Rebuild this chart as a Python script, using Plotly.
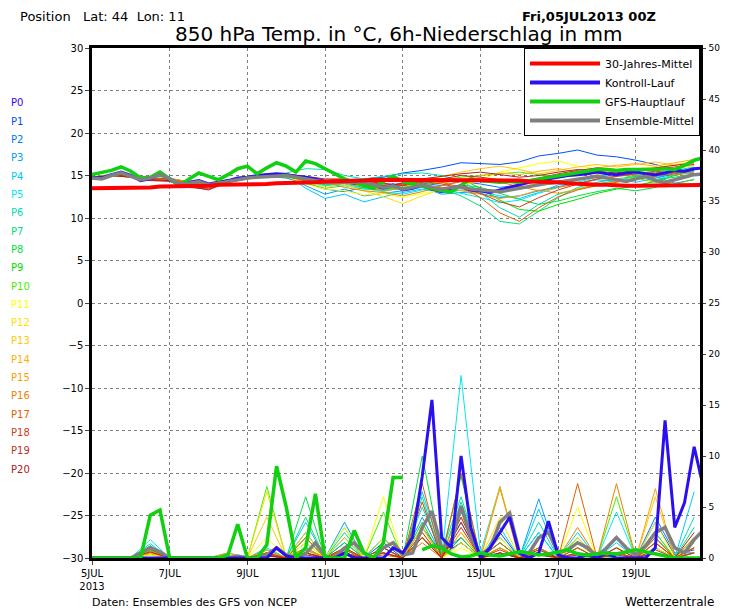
import plotly.graph_objects as go

# ---------------- data ----------------
tick_days = [0, 2, 4, 6, 8, 10, 12, 14]
tick_text = ["5JUL<br>2013", "7JUL", "9JUL", "11JUL", "13JUL", "15JUL", "17JUL", "19JUL"]

climate_temp = [13.5,13.5,13.5,13.6,13.6,13.6,13.6,13.7,13.7,13.7,13.8,13.8,13.8,13.9,13.9,13.9,14.0,14.0,14.0,14.1,14.1,14.1,14.2,14.2,14.3,14.3,14.4,14.4,14.4,14.5,14.5,14.5,
                14.5,14.5,14.5,14.5,14.5,14.5,14.5,14.5,14.5,14.5,14.5,14.4,14.4,14.3,14.3,14.2,14.2,14.1,14.0,14.0,13.9,13.9,13.8,13.8,13.8,13.8,13.8,13.8,13.8,13.8,13.8,13.9]
gfs_temp = [15.1,15.3,15.6,16.0,15.5,14.7,14.8,15.4,14.6,13.8,14.6,15.3,14.9,14.5,15.1,15.8,16.1,15.2,15.9,16.5,16.1,15.4,16.7,16.4,15.8,15.2,14.6,14.2,13.8,13.5,14.3,14.9,
            14.3,14.0,13.7,13.4,13.2,13.1,13.8,14.6,14.4,14.3,14.2,14.3,14.2,14.4,14.6,14.8,15.0,15.2,15.4,15.6,15.7,15.7,15.6,15.7,15.7,15.6,15.7,15.8,15.7,16.2,16.8,17.1]
mean_temp = [14.7,14.6,15.0,15.3,14.9,14.5,14.7,15.1,14.6,14.0,14.1,14.3,13.9,14.1,14.3,14.6,14.7,14.8,14.9,15.0,15.0,14.8,14.6,14.4,14.2,14.2,14.2,14.2,14.2,13.9,13.6,13.8,
             13.4,13.6,13.9,13.6,13.4,13.6,13.7,13.4,13.3,13.2,13.1,13.3,13.5,13.8,14.0,14.1,14.2,14.4,14.6,14.8,14.9,14.7,14.5,14.3,14.6,14.9,14.4,14.2,14.5,14.8,15.1,15.2]
control_temp = [14.8,14.7,15.1,15.4,15.0,14.4,14.6,15.2,14.5,13.9,14.2,14.4,14.0,14.2,14.4,14.7,14.8,15.0,15.1,15.2,15.1,14.9,14.8,14.6,14.3,14.2,14.3,14.1,14.0,13.8,13.5,13.9,
                13.3,13.5,13.9,13.4,13.1,13.5,13.8,13.3,13.2,13.0,13.3,13.6,13.9,14.2,14.4,14.6,14.8,15.0,15.1,15.2,15.4,15.2,15.1,15.3,15.4,15.2,15.1,15.3,15.6,15.5,15.8,15.9]

control_prec = [0,0,0,0,0,0,0,0,0,0,0,0,0,0,0,0,0,0,0,1.0,0.2,0,0,0,0,0,0.5,0,0,0,0,1.0,
                0.5,2.0,8.0,15.5,2.0,1.0,10.0,3.0,0,1.0,2.5,4.0,0.5,0,0.5,3.6,0.3,0,0,0.3,0,0.5,0,0,0,0,1.0,13.5,3.0,5.4,10.9,6.7]
gfs_prec = [0,0,0,0,0,0,4.2,4.7,0,0,0,0,0,0,0.3,3.3,0,0,1.3,9.0,5.0,0,1.0,6.3,0,0,0,2.7,0.5,0,1.5,7.9,
            7.9,None,0.8,1.2,1.0,0.4,0.1,0.2,0.5,0.3,0.2,0.4,0.6,0.5,0.3,0.4,0.6,0.8,0.4,0.3,0.4,0.5,0.4,0.6,0.8,0.6,0.4,0.2,0,0,0,0]
mean_prec = [0,0,0,0,0,0.5,1.0,0.6,0,0,0,0,0,0,0,0.2,0,0,0.3,1.0,0.3,0,0.4,1.5,0.2,0,1.0,1.5,0.5,0,1.0,1.5,
             0.3,0.5,3.0,4.6,1.0,1.5,5.1,2.0,0.3,1.0,3.5,4.4,0.5,0.5,2.0,2.5,0.5,0.8,1.5,1.0,0.2,1.0,2.0,1.0,0.3,1.2,2.5,3.0,1.0,0.5,1.8,2.8]

member_names = ["P%d" % i for i in range(1, 21)]
member_colors = ["#0050ff","#0078ff","#00a0ff","#00c8ff","#00e8f0","#00e0b0","#00e080","#00e040","#00e000","#40f000",
                 "#ffff00","#ffe000","#ffc800","#ffb000","#ffa000","#f08000","#e06000","#d04020","#c03020","#b02020"]
label_colors = ["#3000ff"] + member_colors

member_temp = [
[14.8,15.1,14.8,14.4,14.5,14.2,13.9,14.4,14.8,15.0,15.1,14.7,14.4,14.5,14.6,14.8,15.3,15.6,16.0,16.5,16.4,16.3,16.6,17.3,17.6,18.0,17.4,17.2,16.8,16.3,15.6,15.2],
[14.7,15.0,14.9,14.6,14.7,14.2,13.9,14.2,14.6,14.9,14.7,14.1,13.4,13.1,13.6,13.2,13.5,14.1,13.8,14.3,14.0,13.6,13.9,14.5,14.9,15.3,15.8,15.4,15.0,14.7,15.2,15.6],
[14.6,15.1,14.8,14.5,14.7,14.0,13.8,14.3,14.6,15.0,14.9,13.8,12.8,13.4,12.6,12.9,13.2,13.6,12.8,13.0,12.9,12.4,12.6,13.2,13.7,14.1,14.5,14.3,14.6,14.9,14.1,14.5],
[14.8,14.9,15.0,14.6,14.6,14.0,14.0,14.5,14.8,15.0,15.1,13.5,12.3,12.8,11.9,12.5,13.0,13.4,13.0,13.3,13.1,12.6,12.3,13.0,13.9,14.6,15.0,14.6,14.2,14.7,15.4,15.9],
[14.7,15.2,14.9,14.7,14.5,14.1,14.0,14.3,14.7,15.1,15.0,14.3,13.8,14.0,13.5,13.1,12.8,13.3,13.6,12.9,12.4,11.8,12.1,12.9,13.6,14.2,14.8,15.3,15.0,14.5,15.1,15.5],
[14.7,15.0,14.8,14.8,14.6,14.2,13.9,14.4,14.9,15.2,15.3,15.8,15.7,15.0,14.6,14.9,15.2,15.3,15.0,14.4,13.0,11.2,10.1,11.6,12.8,13.4,14.0,14.4,14.9,15.3,15.6,16.0],
[14.6,15.0,14.9,14.6,14.6,14.1,13.9,14.3,14.7,15.0,14.8,14.1,13.5,13.8,13.4,13.3,13.6,14.0,13.4,12.6,11.4,9.6,9.3,10.8,12.4,13.6,14.2,14.6,14.9,14.5,14.8,15.2],
[14.7,15.1,14.8,14.5,14.6,14.1,13.9,14.4,14.8,15.1,14.9,14.3,13.9,14.1,13.6,13.5,13.4,13.8,13.2,13.9,13.6,12.9,12.2,11.6,12.0,12.6,13.1,13.5,13.2,13.6,14.4,15.2],
[14.8,15.0,14.9,14.6,14.6,14.3,14.0,14.4,14.8,15.0,15.0,14.5,14.2,14.4,13.9,13.8,13.4,13.9,14.2,14.6,13.5,12.1,11.0,10.8,11.6,12.2,12.9,13.4,13.8,14.3,15.0,15.8],
[14.7,15.1,14.9,14.7,14.5,14.2,13.9,14.3,14.7,14.9,14.8,14.4,14.1,14.2,14.3,13.9,13.6,14.1,14.5,14.8,15.0,15.2,15.4,15.1,14.8,15.0,15.3,15.2,14.7,14.2,13.9,14.6],
[14.7,15.0,14.8,14.6,14.7,14.1,14.0,14.4,14.7,15.0,14.9,14.0,13.4,13.2,12.7,12.9,12.4,12.9,13.3,13.8,14.5,15.4,15.9,16.4,16.7,16.1,15.8,15.6,15.4,15.9,16.3,16.6],
[14.6,15.1,14.9,14.5,14.6,14.2,13.9,14.4,14.8,15.1,15.0,14.2,13.6,13.9,13.2,12.5,11.7,12.6,13.4,13.9,14.4,14.6,14.2,13.8,14.1,14.5,15.1,15.5,15.8,16.0,15.8,16.2],
[14.7,15.0,14.8,14.6,14.6,14.1,14.0,14.3,14.8,15.0,14.9,14.5,14.2,14.6,14.1,13.6,13.8,14.2,14.9,15.4,15.8,16.1,15.7,15.2,15.6,16.0,16.3,16.0,16.3,16.6,16.2,16.6],
[14.8,15.1,14.9,14.5,14.5,14.0,13.8,14.4,14.8,15.1,15.0,14.6,14.0,14.3,13.8,13.7,13.9,14.4,14.1,14.5,15.0,15.3,15.1,15.5,15.8,15.4,15.9,16.2,16.4,16.1,16.5,16.9],
[14.7,15.0,14.9,14.6,14.5,14.1,13.9,14.3,14.7,15.0,15.1,14.7,14.3,14.1,13.7,13.2,13.5,14.0,13.6,13.2,12.8,12.3,12.6,13.3,12.9,13.4,13.9,14.3,14.7,15.2,15.4,15.8],
[14.7,15.1,14.8,14.5,14.6,14.2,13.8,14.4,14.8,15.1,15.2,14.8,14.2,13.6,13.2,13.0,12.6,13.1,13.8,14.3,14.7,14.2,13.7,13.2,13.6,14.0,14.6,14.9,15.1,15.4,15.0,15.4],
[14.6,15.0,14.8,14.6,14.6,14.1,13.9,14.3,14.8,15.0,14.9,14.4,14.0,14.3,14.0,13.8,14.0,14.5,14.2,13.6,12.4,10.6,9.6,11.2,12.5,13.3,13.8,14.2,14.6,14.9,15.3,15.7],
[14.8,15.0,14.9,14.6,14.6,13.8,13.5,14.2,14.8,15.0,15.1,14.7,14.4,14.5,14.2,14.0,13.9,14.3,14.0,13.5,12.9,11.9,11.3,12.4,13.3,14.0,14.6,14.9,15.2,15.5,15.3,15.6],
[14.7,15.1,14.9,14.4,14.3,13.6,13.4,14.3,14.7,15.1,15.2,14.9,14.6,14.6,14.3,14.1,13.8,14.2,14.6,15.0,14.8,14.5,14.3,14.7,15.2,15.6,15.9,15.7,15.5,15.8,16.0,16.3],
[14.7,15.0,14.8,14.5,14.4,13.7,13.3,14.2,14.7,15.0,15.1,14.7,14.3,14.4,14.0,13.8,14.1,14.6,14.9,15.2,15.4,15.1,14.8,15.0,15.4,15.7,15.5,15.3,15.6,15.9,16.2,16.5],
]

member_prec = [
[0,0,0,0.8,0,0,0,0,0,0.3,0,0.5,0,0.8,0,1.5,0,2.0,0.3,1.5,0,2.5,0,1.0,0,0,0.5,0,0,3.5,0.3,0.8],
[0,0,0,1.0,0,0,0,0,0,0.2,0,0.8,0,1.5,0,2.0,0,3.0,0.5,2.0,0,1.5,0,2.5,0,0.5,0.3,0,0,4.0,0.5,0.5],
[0,0,0,1.2,0,0,0,0.5,0,0.5,0,2.5,0,3.5,0,1.0,0,4.0,0.3,3.5,0,2.0,0,5.8,0,1.0,0,0.5,0,2.0,0,1.0],
[0,0,0,0.9,0,0,0,0,0,1.0,0,3.5,0,2.0,0,0.5,0,6.5,0.5,4.5,0,3.0,0,4.8,0,2.5,0,1.5,0,1.0,0,6.5],
[0,0,0,1.8,0,0,0,0,0,0.5,0,1.0,0,0.5,0,1.0,0,3.0,0,17.9,0.5,7.0,0,2.5,0,0.5,0,4.5,0,2.0,0,2.0],
[0,0,0,1.4,0,0,0,0,0,0.3,0,1.5,0,3.0,0,2.0,0,5.0,0.5,6.0,0,1.0,0,3.5,0,0.5,0,0,0,2.5,0,4.0],
[0,0,0,1.0,0,0,0,0.3,0,0.5,0,4.0,0,2.5,0,0.5,0,6.0,0,5.5,0,0.5,0,1.0,0,2.0,0,0.5,0,1.0,0,3.0],
[0,0,0,0.7,0,0,0,0,0,0.3,0,6.0,0,1.5,0,1.0,0,10.0,0.3,8.0,0,2.0,0,0.5,0,1.0,0,1.0,0,0.5,0,2.0],
[0,0,0,0.5,0,0,0,0,0,0.8,0,2.0,0,0.5,0,0.5,0,3.5,0,2.0,0,0.5,0,0.3,0,0,0,0.5,0,1.5,0,0.5],
[0,0,0,0.4,0,0,0,0,0,7.0,0,1.0,0,1.0,0,4.5,0,2.0,0,1.5,0,1.5,0,1.0,0,2.0,0,6.0,0,2.5,0,0.5],
[0,0,0,0.3,0,0,0,0,0,2.0,0,1.5,0,3.0,0,6.0,0,2.5,0,1.0,0,2.0,0,0.5,0,5.0,0,0.5,0,3.5,0,1.0],
[0,0,0,0.3,0,0,0,0.3,0,6.5,0,1.0,0,1.0,0,2.0,0,3.0,0,2.5,0,4.0,0,0.5,0,2.0,0,1.0,0,1.0,0,0.5],
[0,0,0,0.5,0,0,0,0,0,4.0,0,2.5,0,2.0,0,1.0,0,2.0,0,1.5,0,1.0,0,0.5,0,1.0,0,0.5,0,6.0,0,1.5],
[0,0,0,0.6,0,0,0,0,0,0.5,0,0.8,0,1.0,0,0.5,0,3.0,0,5.0,0,7.0,0,0.5,0,1.5,0,1.0,0,2.0,0,1.0],
[0,0,0,0.5,0,0,0,0.5,0,0.8,0,0.5,0,0.5,0,1.0,0,2.0,0,2.5,0,6.8,0,1.0,0,0.5,0,2.0,0,6.8,0,2.0],
[0,0,0,0.8,0,0,0,0,0,0.5,0,1.0,0,0.5,0,0.5,0,1.5,0,4.0,0,1.0,0,0.5,0,3.0,0,7.3,0,1.5,0,1.0],
[0,0,0,1.0,0,0,0,0,0,0.3,0,2.0,0,0.8,0,0.3,0,7.3,0,8.3,0,1.5,0,1.0,0,7.3,0,0.5,0,2.0,0,0.5],
[0,0,0,1.1,0,0,0,0,0,0.5,0,0.5,0,0.5,0,0.5,0,5.5,0,4.0,0,0.5,0,0.5,0,1.0,0,0.5,0,1.5,0,1.0],
[0,0,0,0.9,0,0,0,0,0,0.3,0,0.3,0,1.0,0,0.5,0,2.5,0,3.0,0,0.8,0,0.3,0,0.5,0,0.3,0,0.8,0,0.5],
[0,0,0,0.6,0,0,0,0,0,0.2,0,0.5,0,0.3,0,1.0,0,2.0,0,3.5,0,0.5,0,0.8,0,0.3,0,1.0,0,0.5,0,2.5],
]

# ---------------- figure ----------------
def t6(arr):
    return [0.25 * i for i in range(len(arr))]

def t12(arr):
    return [0.5 * i for i in range(len(arr))]

fig = go.Figure()
for name, col, tv, pv in zip(member_names, member_colors, member_temp, member_prec):
    fig.add_trace(go.Scatter(x=t12(tv), y=tv, mode="lines", line=dict(color=col, width=1), showlegend=False, name=name))
    fig.add_trace(go.Scatter(x=t12(pv), y=pv, yaxis="y2", mode="lines", line=dict(color=col, width=1), showlegend=False, name=name))

fig.add_trace(go.Scatter(x=t6(mean_prec), y=mean_prec, yaxis="y2", mode="lines", line=dict(color="#808080", width=3.5), showlegend=False))
fig.add_trace(go.Scatter(x=t6(control_prec), y=control_prec, yaxis="y2", mode="lines", line=dict(color="#2a10f0", width=3), showlegend=False))
fig.add_trace(go.Scatter(x=t6(gfs_prec), y=gfs_prec, yaxis="y2", mode="lines", line=dict(color="#10d010", width=3.5), showlegend=False, connectgaps=False))

fig.add_trace(go.Scatter(x=t6(control_temp), y=control_temp, mode="lines", line=dict(color="#2a10f0", width=3), showlegend=False))
fig.add_trace(go.Scatter(x=t6(gfs_temp), y=gfs_temp, mode="lines", line=dict(color="#10d010", width=3.5), showlegend=False))
fig.add_trace(go.Scatter(x=t6(mean_temp), y=mean_temp, mode="lines", line=dict(color="#808080", width=3.5), showlegend=False))
fig.add_trace(go.Scatter(x=t6(climate_temp), y=climate_temp, mode="lines", line=dict(color="#ff0000", width=4), showlegend=False))

for nm, col in [("30-Jahres-Mittel", "#ff0000"), ("Kontroll-Lauf", "#2a10f0"), ("GFS-Hauptlauf", "#10d010"), ("Ensemble-Mittel", "#808080")]:
    fig.add_trace(go.Scatter(x=[None], y=[None], mode="lines", line=dict(color=col, width=4), name=nm))

font = "DejaVu Sans"
OFF = 8  # page offset of the figure inside the browser window
PL, PR, PT, PB = 92, 700, 48, 558   # plot box in window pixels
W = PR - PL
H = PB - PT

def px(x):
    return (x - PL) / W

def py(y):
    return (PB - y) / H

ann = []
for i, c in enumerate(label_colors):
    ann.append(dict(x=px(OFF + 1), xref="paper", xanchor="left", y=py(103 + i * 18.3), yref="paper", yanchor="middle",
                    text="P%d" % i, showarrow=False, font=dict(color=c, size=10, family=font)))

ann += [
    dict(x=px(18), y=py(16), xref="paper", yref="paper", xanchor="left", yanchor="middle", showarrow=False,
         text="Position   Lat: 44  Lon: 11", font=dict(size=13, family=font, color="black")),
    dict(x=px(658), y=py(16), xref="paper", yref="paper", xanchor="right", yanchor="middle", showarrow=False,
         text="<b>Fri,05JUL2013 00Z</b>", font=dict(size=13, family=font, color="black")),
    dict(x=px(398), y=py(34), xref="paper", yref="paper", xanchor="center", yanchor="middle", showarrow=False,
         text="850 hPa Temp. in °C, 6h-Niederschlag in mm", font=dict(size=20, family=font, color="black")),
    dict(x=px(90), y=py(602), xref="paper", yref="paper", xanchor="left", yanchor="middle", showarrow=False,
         text="Daten: Ensembles des GFS von NCEP", font=dict(size=11, family=font, color="black")),
    dict(x=px(716), y=py(602), xref="paper", yref="paper", xanchor="right", yanchor="middle", showarrow=False,
         text="Wetterzentrale", font=dict(size=12, family=font, color="black")),
]

fig.update_layout(
    width=730, height=609 - OFF,
    margin=dict(l=PL - OFF, r=730 - PR + OFF, t=PT - OFF, b=609 - PB, autoexpand=False),
    paper_bgcolor="white", plot_bgcolor="white",
    font=dict(family=font, size=10, color="black"),
    annotations=ann,
    legend=dict(x=1, y=1, xanchor="right", yanchor="top", bordercolor="black", borderwidth=1,
                bgcolor="white", font=dict(size=11, family=font), itemwidth=70, tracegroupgap=0),
    xaxis=dict(range=[0, 15.65], tickmode="array", tickvals=tick_days, ticktext=tick_text,
               showgrid=True, gridcolor="#808080", griddash="dot", gridwidth=1,
               showline=True, linecolor="black", linewidth=2.5, mirror=True, ticks="outside", ticklen=4,
               zeroline=False, tickfont=dict(size=10), automargin=False),
    yaxis=dict(range=[-30, 30], dtick=5, showgrid=True, gridcolor="#808080", griddash="dot",
               showline=True, linecolor="black", linewidth=2.5, ticks="outside", ticklen=4, zeroline=False,
               tickfont=dict(size=10), automargin=False),
    yaxis2=dict(range=[0, 50], dtick=5, overlaying="y", side="right", showgrid=False, showline=True,
                linecolor="black", linewidth=2.5, ticks="outside", ticklen=3, ticklabelstandoff=1, zeroline=False,
                tickfont=dict(size=9), automargin=False),
)

fig.write_html("out.html")
